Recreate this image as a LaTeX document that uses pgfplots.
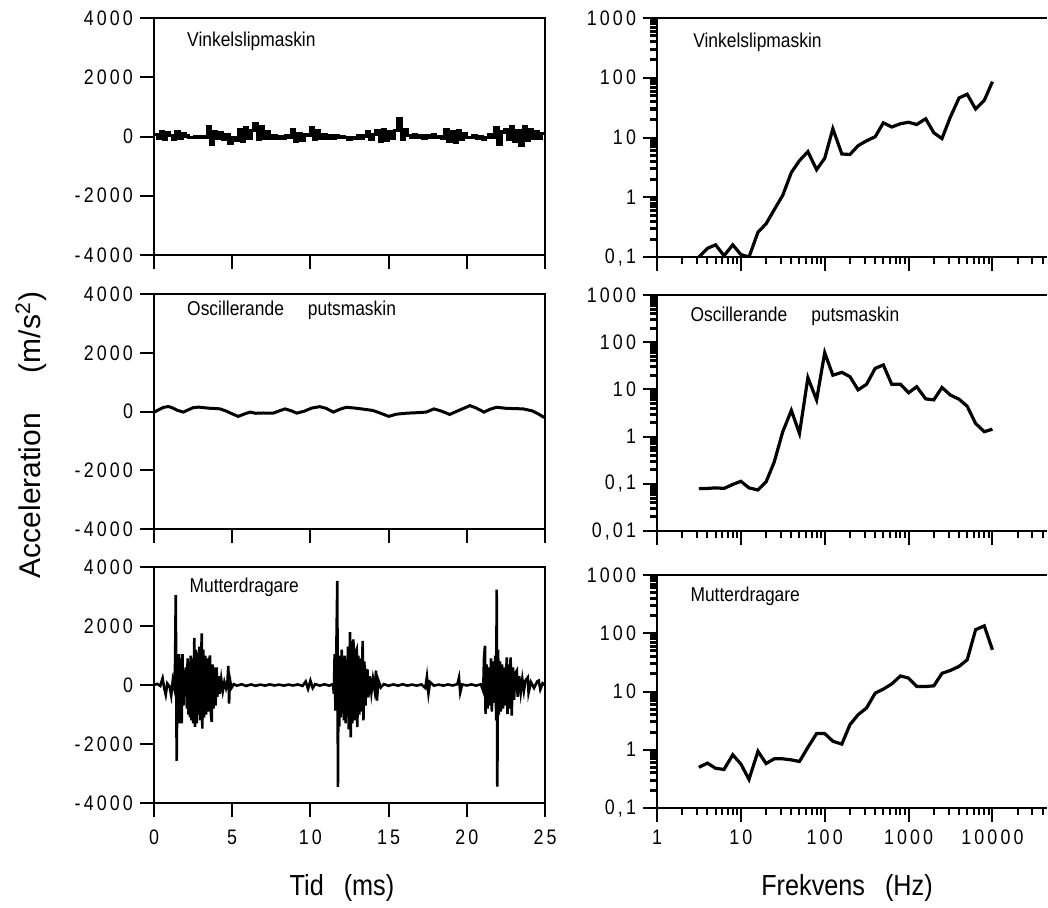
\documentclass[border=0pt]{standalone}
\usepackage{fontspec}
\setmainfont{Liberation Sans}
\newfontfamily\narrowfont[FakeStretch=0.85]{Liberation Sans}
\newfontfamily\titlefam[FakeStretch=0.87]{Liberation Sans}
\newfontfamily\labfam[FakeStretch=0.87]{Liberation Sans}
\usepackage{pgfplots}
\pgfplotsset{compat=1.18}

\newcommand\ls{\kern0.15em}
\newcommand\tickfont{\fontsize{10.5}{12}\narrowfont}
\newcommand\titlefont{\fontsize{10}{12}\titlefam}
\newcommand\labfont{\fontsize{14.5}{17}\labfam}

\tikzset{ttl/.style={anchor=west, inner sep=0pt, font=\titlefont}}

\pgfplotsset{
  base/.style={scale only axis, tick align=outside,
    major tick length=7pt, minor tick length=3.5pt,
    every tick/.style={black, line width=1pt},
    axis line style={line width=1.2pt, -},
    tick label style={font=\tickfont},
    xtick pos=left, ytick pos=left},
  timeax/.style={base, width=195.5pt, xmin=0, xmax=25, ymin=-4000, ymax=4000,
    xtick={0,5,10,15,20,25}, ytick={-4000,-2000,0,2000,4000},
    yticklabels={{-\ls4\ls0\ls0\ls0},{-\ls2\ls0\ls0\ls0},0,{2\ls0\ls0\ls0},{4\ls0\ls0\ls0}},
    xticklabel style={yshift=-3pt},
    xticklabels={}},
  specax/.style={base, width=195.1pt, xmin=1, xmax=45000,
    axis x line*=box, axis y line*=left,
    x axis line style={-}, y axis line style={-},
    xtick={1,10,100,1000,10000},
    minor xtick={2,3,4,5,6,7,8,9,20,30,40,50,60,70,80,90,200,300,400,500,600,700,800,900,
      2000,3000,4000,5000,6000,7000,8000,9000,20000,30000,40000},
    minor ytick={0.02,0.03,0.04,0.05,0.06,0.07,0.08,0.09,0.2,0.3,0.4,0.5,0.6,0.7,0.8,0.9,
      2,3,4,5,6,7,8,9,20,30,40,50,60,70,80,90,200,300,400,500,600,700,800,900},
    minor y tick style={line width=1.5pt},
    xticklabel style={yshift=-0.5pt},
    xticklabels={}},
  sig/.style={black, line width=1.3pt},
  specline/.style={black, line width=1.6pt},
}

\begin{document}
\begin{tikzpicture}
\path[use as bounding box] (0,0) rectangle (524pt,-453.5pt);

% ---------- left column: time signals ----------
\begin{axis}[timeax, at={(77pt,-127.5pt)}, anchor=south west, height=118.5pt]
\addplot[sig, const plot, line width=1.6pt] coordinates {
(0.0,80) (0.2,-60) (0.4,150) (0.6,-100) (0.8,120) (1.0,40) (1.2,-90) (1.4,180) (1.6,-50) (1.8,100)
(2.0,20) (2.2,-20) (2.4,-30) (2.6,-10) (2.8,-40) (3.0,0) (3.2,-20) (3.4,350) (3.6,-280) (3.8,150)
(4.0,-80) (4.2,120) (4.4,-100) (4.6,60) (4.8,-220) (5.0,-50) (5.2,-120) (5.4,250) (5.6,-150) (5.8,300)
(6.0,-80) (6.2,200) (6.4,420) (6.6,-100) (6.8,350) (7.0,-60) (7.2,150) (7.4,-50) (7.6,20) (7.8,-80)
(8.0,0) (8.2,-60) (8.4,30) (8.6,-20) (8.8,250) (9.0,-150) (9.2,100) (9.4,-120) (9.6,80) (9.8,30)
(10.0,300) (10.2,-100) (10.4,200) (10.6,-50) (10.8,50) (11.0,-80) (11.2,20) (11.4,-60) (11.6,40) (11.8,-30)
(12.0,0) (12.2,-40) (12.4,-110) (12.6,-20) (12.8,-60) (13.0,30) (13.2,-50) (13.4,20) (13.6,150) (13.8,-100)
(14.0,80) (14.2,200) (14.4,-150) (14.6,250) (14.8,-120) (15.0,180) (15.2,-80) (15.4,200) (15.6,600) (15.8,-100)
(16.0,250) (16.2,30) (16.4,-20) (16.6,60) (16.8,-40) (17.0,40) (17.2,-60) (17.4,20) (17.6,-30) (17.8,50)
(18.0,-20) (18.2,0) (18.4,-50) (18.6,250) (18.8,-150) (19.0,150) (19.2,-200) (19.4,200) (19.6,-100) (19.8,100)
(20.0,-40) (20.2,-30) (20.4,20) (20.6,-60) (20.8,0) (21.0,-90) (21.2,-20) (21.4,50) (21.6,-40) (21.8,300)
(22.0,-250) (22.2,150) (22.4,250) (22.6,-100) (22.8,350) (23.0,-150) (23.2,200) (23.4,-300) (23.6,320) (23.8,-120)
(24.0,250) (24.2,-80) (24.4,150) (24.6,-60) (24.8,100) (25.0,60)
};
\node[ttl] at (rel axis cs:0.084,0.9) {Vinkelslipmaskin};
\end{axis}

\begin{axis}[timeax, at={(77pt,-264.5pt)}, anchor=south west, height=117.5pt]
\addplot[sig, line width=1.5pt] coordinates {
(0,-20) (0.3,60) (0.6,140) (0.92,170) (1.2,120) (1.5,40) (1.88,-20) (2.2,60) (2.5,130) (2.84,150)
(3.2,130) (3.6,110) (4.0,100) (4.22,90) (4.6,20) (5.0,-80) (5.39,-165) (5.7,-100) (6.14,-20) (6.5,-60)
(7.0,-50) (7.63,-55) (8.0,20) (8.38,90) (8.8,20) (9.13,-55) (9.6,10) (10.1,120) (10.6,165) (11.0,110)
(11.47,-20) (11.9,80) (12.3,145) (12.8,120) (13.4,80) (14.0,35) (14.5,-60) (15.0,-165) (15.5,-90) (16.2,-55)
(16.8,-40) (17.4,-20) (17.9,90) (18.4,10) (18.9,-100) (19.5,40) (20.2,200) (20.6,120) (21.1,-20) (21.5,80)
(21.9,145) (22.5,110) (23.0,100) (23.6,90) (24.2,20) (24.6,-90) (24.9,-190) (25,-180)
};
\node[ttl] at (rel axis cs:0.084,0.932) {Oscillerande\hspace{1.2em}putsmaskin};
\end{axis}

\begin{axis}[timeax, at={(77pt,-401.5pt)}, anchor=south west, height=118pt,
  xticklabels={0,5,{1\ls0},{1\ls5},{2\ls0},{2\ls5}}]
\addplot[sig] coordinates {
(0,0) (0.2,40) (0.4,-30) (0.55,230) (0.65,-100) (0.75,-330) (0.85,50) (1.0,-60) (1.1,-350) (1.2,150) (1.3,-100)
(1.35,800) (1.39,3050) (1.45,-2570) (1.5,600) (1.55,-900) (1.6,1050) (1.65,-1300) (1.7,900) (1.77,-1300) (1.82,1050)
(1.88,-700) (1.95,500) (2.0,-400) (2.05,600) (2.1,-800) (2.15,900) (2.2,-1000) (2.25,800) (2.3,-1100) (2.35,1000)
(2.4,-1200) (2.45,900) (2.5,-1300) (2.58,1600) (2.62,-1420) (2.68,1200) (2.73,-1300) (2.78,1100) (2.83,-1000) (2.9,1300)
(2.95,-1200) (3.05,1750) (3.09,-1480) (3.15,1200) (3.2,-1100) (3.28,1000) (3.33,-1000) (3.4,900) (3.45,-900) (3.52,800)
(3.58,1000) (3.64,-1000) (3.69,-1250) (3.75,700) (3.8,-800) (3.88,600) (3.94,-700) (4.0,600) (4.05,-400) (4.12,300)
(4.2,-300) (4.3,200) (4.4,-200) (4.5,100) (4.6,-100) (4.7,150) (4.75,650) (4.8,-630) (4.85,200) (4.95,-100)
(5.1,30) (5.3,-20) (5.6,25) (5.9,-30) (6.2,20) (6.5,-25) (6.8,15) (7.1,-20) (7.4,20) (7.7,-15)
(8.0,15) (8.3,-20) (8.6,15) (8.9,-15) (9.2,20) (9.5,-30) (9.7,120) (9.85,-130) (10.0,150) (10.15,-100)
(10.3,30) (10.6,-20) (10.9,25) (11.2,-20) (11.45,30)
(11.5,-300) (11.55,1050) (11.6,-870) (11.65,800) (11.72,3530) (11.76,-3450) (11.8,900) (11.85,-1400) (11.9,1000) (11.95,-1100)
(12.0,1200) (12.05,-900) (12.1,700) (12.15,-1200) (12.2,1000) (12.25,-1300) (12.3,800) (12.35,-1100) (12.4,1300) (12.45,-1500)
(12.53,1790) (12.58,-1770) (12.63,1500) (12.68,-1300) (12.75,1550) (12.8,-1200) (12.87,1100) (12.96,1220) (13.0,-1430) (13.06,1000)
(13.12,-1000) (13.2,900) (13.27,-900) (13.34,1500) (13.39,-1200) (13.45,800) (13.52,-700) (13.6,500) (13.65,490) (13.7,-420)
(13.8,300) (13.9,-250) (14.0,200) (14.1,-150) (14.2,490) (14.25,-530) (14.35,150) (14.5,-80) (14.7,30)
(15.0,-25) (15.3,20) (15.6,-20) (15.9,25) (16.2,-20) (16.5,15) (16.8,-20) (17.1,20) (17.35,-100) (17.45,280)
(17.55,-280) (17.65,100) (17.9,-20) (18.2,15) (18.5,-20) (18.8,20) (19.1,-15) (19.4,30) (19.5,250) (19.58,-250)
(19.7,20) (20.0,-15) (20.3,20) (20.6,-20) (20.9,25)
(21.05,-200) (21.1,900) (21.16,1330) (21.2,-980) (21.27,700) (21.33,-800) (21.4,600) (21.47,-700) (21.55,900) (21.6,-900)
(21.67,800) (21.75,-600) (21.82,1000) (21.88,-1200) (21.91,3230) (21.95,-3440) (22.0,1200) (22.05,-1000) (22.12,800) (22.18,-900)
(22.25,700) (22.32,-800) (22.4,600) (22.48,-700) (22.55,940) (22.6,-980) (22.67,700) (22.73,-800) (22.8,940) (22.87,-1040)
(22.95,600) (23.02,-500) (23.1,400) (23.2,490) (23.25,-400) (23.35,300) (23.45,-250) (23.55,200) (23.65,-200) (23.75,150)
(23.9,260) (23.95,-260) (24.1,100) (24.3,-100) (24.5,120) (24.6,150) (24.7,-150) (24.85,60) (25,0)
};
\node[ttl] at (rel axis cs:0.09,0.915) {Mutterdragare};
\end{axis}

% ---------- right column: spectra ----------
\begin{loglogaxis}[specax, at={(328.5pt,-128.5pt)}, anchor=south west, height=119.5pt,
  ymin=0.1, ymax=1000, ytick={0.1,1,10,100,1000},
  yticklabels={{0\ls,\ls1},1,{1\ls0},{1\ls0\ls0},{1\ls0\ls0\ls0}}]
\addplot[specline] coordinates {
(3.15,0.1) (4,0.14) (5,0.16) (6.3,0.105) (8,0.16) (10,0.11) (12.5,0.1) (16,0.26) (20,0.36) (25,0.62)
(31.5,1.07) (40,2.6) (50,4.1) (63,5.8) (80,2.9) (100,4.5) (125,14) (160,5.3) (200,5.2) (250,7.3)
(315,8.8) (400,10.3) (500,17.6) (630,15) (800,17) (1000,18) (1250,16.5) (1600,20.6) (2000,12) (2500,9.6)
(3150,22) (4000,46) (5000,53) (6300,30) (8000,42) (10000,86)
};
\node[ttl] at (rel axis cs:0.092,0.9) {Vinkelslipmaskin};
\end{loglogaxis}

\begin{loglogaxis}[specax, at={(328.5pt,-265.5pt)}, anchor=south west, height=118pt,
  ymin=0.01, ymax=1000, ytick={0.01,0.1,1,10,100,1000},
  yticklabels={{0\ls,\ls0\ls1},{0\ls,\ls1},1,{1\ls0},{1\ls0\ls0},{1\ls0\ls0\ls0}}]
\addplot[specline] coordinates {
(3.15,0.079) (4,0.08) (5,0.082) (6.3,0.08) (8,0.097) (10,0.113) (12.5,0.082) (16,0.074) (20,0.11) (25,0.29)
(31.5,1.25) (40,3.6) (50,1.17) (63,17.7) (80,6) (100,60) (125,20) (160,23) (200,18.6) (250,9.8)
(315,12.8) (400,28) (500,33) (630,12.8) (800,12.9) (1000,8.5) (1250,11.4) (1600,6.3) (2000,6) (2500,11)
(3150,7.6) (4000,6.2) (5000,4.4) (6300,1.9) (8000,1.27) (10000,1.44)
};
\node[ttl] at (rel axis cs:0.085,0.91) {Oscillerande\hspace{1.2em}putsmaskin};
\end{loglogaxis}

\begin{loglogaxis}[specax, at={(328.5pt,-404pt)}, anchor=south west, height=116.5pt,
  ymin=0.1, ymax=1000, ytick={0.1,1,10,100,1000},
  yticklabels={{0\ls,\ls1},1,{1\ls0},{1\ls0\ls0},{1\ls0\ls0\ls0}},
  xticklabels={1,{1\ls0},{1\ls0\ls0},{1\ls0\ls0\ls0},{1\ls0\ls0\ls0\ls0}}]
\addplot[specline] coordinates {
(3.15,0.5) (4,0.59) (5,0.48) (6.3,0.46) (8,0.82) (10,0.57) (12.5,0.31) (16,0.94) (20,0.58) (25,0.7)
(31.5,0.7) (40,0.67) (50,0.63) (63,1.1) (80,1.9) (100,1.9) (125,1.4) (160,1.25) (200,2.7) (250,4)
(315,5.2) (400,9.4) (500,11) (630,13.5) (800,18.5) (1000,17) (1250,12.2) (1600,12.2) (2000,12.5) (2500,20.5)
(3150,23) (4000,27) (5000,35) (6300,115) (8000,134) (10000,52)
};
\node[ttl] at (rel axis cs:0.085,0.91) {Mutterdragare};
\end{loglogaxis}

% ---------- shared axis titles ----------
\node[rotate=90, font=\fontsize{15}{17}\selectfont] at (15.5pt,-217.5pt) {Acceleration\hspace{20pt}(m/s\textsuperscript{2})};
\node[font=\labfont] at (171pt,-444pt) {Tid\hspace{10pt}(ms)};
\node[font=\labfont] at (423.5pt,-444pt) {Frekvens\hspace{10pt}(Hz)};
\end{tikzpicture}
\end{document}
